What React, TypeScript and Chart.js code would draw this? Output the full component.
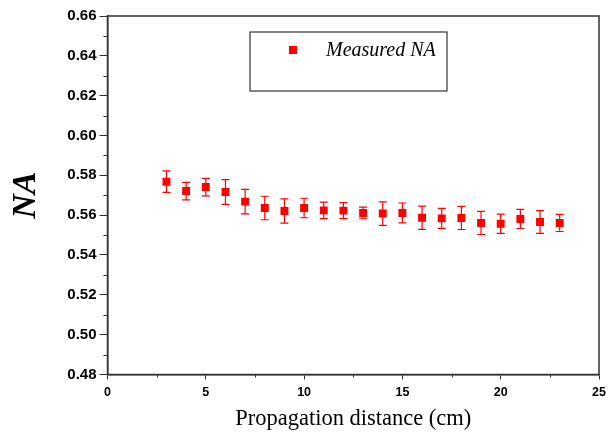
import React, { useEffect, useRef } from "react";
import { Chart, registerables } from "chart.js";

Chart.register(...registerables);

const seriesLabel = "Measured NA";
const distances = [3, 4, 5, 6, 7, 8, 9, 10, 11, 12, 13, 14, 15, 16, 17, 18, 19, 20, 21, 22, 23];
const naValues = [0.5768, 0.5721, 0.5741, 0.5716, 0.5668, 0.5636, 0.5621, 0.5636, 0.5624, 0.5623, 0.5611, 0.5608, 0.5611, 0.5587, 0.5584, 0.5586, 0.5561, 0.5557, 0.5581, 0.5566, 0.5561];
const naErrors = [0.0054, 0.0044, 0.0044, 0.0062, 0.0062, 0.0059, 0.0061, 0.0049, 0.0041, 0.004, 0.0029, 0.0059, 0.005, 0.0058, 0.005, 0.0058, 0.0058, 0.0048, 0.0048, 0.0057, 0.0043];
const xMin = 0, xMax = 25, xStep = 5, xMinorStep = 2.5;
const yMin = 0.48, yMax = 0.66, yStep = 0.02, yMinorStep = 0.01;

const AXIS = "#333";

const decorPlugin = {
  id: "decor",
  beforeDatasetsDraw(chart: any) {
    const { ctx } = chart;
    const xs = chart.scales.x, ys = chart.scales.y;
    ctx.save();
    ctx.strokeStyle = "#ff0000";
    ctx.lineWidth = 1.2;
    distances.forEach((d, i) => {
      const px = xs.getPixelForValue(d);
      const top = ys.getPixelForValue(naValues[i] + naErrors[i]);
      const bot = ys.getPixelForValue(naValues[i] - naErrors[i]);
      ctx.beginPath();
      ctx.moveTo(px, top); ctx.lineTo(px, bot);
      ctx.moveTo(px - 4, top); ctx.lineTo(px + 4, top);
      ctx.moveTo(px - 4, bot); ctx.lineTo(px + 4, bot);
      ctx.stroke();
    });
    ctx.restore();
  },
  afterDraw(chart: any) {
    const { ctx, chartArea: ca } = chart;
    const xs = chart.scales.x, ys = chart.scales.y;
    ctx.save();
    ctx.strokeStyle = AXIS;
    ctx.lineWidth = 1.5;
    ctx.strokeRect(ca.left, ca.top, ca.right - ca.left, ca.bottom - ca.top);
    ctx.lineWidth = 1;
    // minor ticks (outside)
    ctx.beginPath();
    for (let v = yMin + yMinorStep; v < yMax; v += yStep) {
      const py = Math.round(ys.getPixelForValue(v)) + 0.5;
      ctx.moveTo(ca.left, py); ctx.lineTo(ca.left - 4, py);
    }
    for (let v = xMinorStep; v < xMax; v += xStep) {
      const px = Math.round(xs.getPixelForValue(v)) + 0.5;
      ctx.moveTo(px, ca.bottom); ctx.lineTo(px, ca.bottom + 3);
    }
    ctx.stroke();
    // legend box
    const bx = ca.left + 142.5, by = ca.top + 16, bw = 197, bh = 59;
    ctx.fillStyle = "#fff";
    ctx.fillRect(bx, by, bw, bh);
    ctx.strokeStyle = AXIS;
    ctx.lineWidth = 1.2;
    ctx.strokeRect(bx, by, bw, bh);
    ctx.fillStyle = "#ff0000";
    ctx.fillRect(bx + 39, by + 14, 8, 8);
    ctx.fillStyle = "#000";
    ctx.font = "italic 20px 'Liberation Serif', 'Times New Roman', serif";
    ctx.textBaseline = "middle";
    ctx.textAlign = "left";
    ctx.fillText(seriesLabel, bx + 76, by + 19);
    ctx.restore();
  },
};

export default function App() {
  const ref = useRef<HTMLCanvasElement | null>(null);
  useEffect(() => {
    if (!ref.current) return;
    const chart = new Chart(ref.current, {
      type: "scatter",
      data: {
        datasets: [
          {
            label: seriesLabel,
            data: distances.map((d, i) => ({ x: d, y: naValues[i] })),
            pointStyle: "rect",
            pointRadius: 5.6,
            pointHoverRadius: 5.6,
            backgroundColor: "#ff0000",
            borderWidth: 0,
            showLine: false,
          },
        ],
      },
      options: {
        animation: false,
        responsive: true,
        maintainAspectRatio: false,
        layout: { padding: { top: 16, right: 9, left: 0, bottom: 0 } },
        plugins: { legend: { display: false }, tooltip: { enabled: false } },
        scales: {
          x: {
            type: "linear",
            min: xMin,
            max: xMax,
            afterFit: (s: any) => { s.height = 58.5; s.paddingRight = 0; s.paddingLeft = 0; },
            ticks: {
              stepSize: xStep,
              color: "#000",
              padding: 6,
              maxRotation: 0,
              font: { family: "'Liberation Sans', Arial, sans-serif", size: 12.5, weight: "bold" },
            },
            grid: { drawOnChartArea: false, drawTicks: true, tickLength: 5, color: AXIS, lineWidth: 1 },
            border: { display: true, color: AXIS, width: 1.5 },
            title: {
              display: true,
              text: "Propagation distance (cm)",
              color: "#000",
              padding: { top: 0, bottom: 0 },
              font: { family: "'Liberation Serif', 'Times New Roman', serif", size: 22.5, weight: "normal" },
            },
          },
          y: {
            min: yMin,
            max: yMax,
            afterFit: (s: any) => { s.width = 107.5; s.paddingTop = 0; s.paddingBottom = 0; },
            ticks: {
              stepSize: yStep,
              color: "#000",
              padding: 3,
              callback: (v: any) => Number(v).toFixed(2),
              font: { family: "'Liberation Sans', Arial, sans-serif", size: 15, weight: "bold" },
            },
            grid: { drawOnChartArea: false, drawTicks: true, tickLength: 8, color: AXIS, lineWidth: 1 },
            border: { display: true, color: AXIS, width: 1.5 },
            title: {
              display: true,
              text: "NA",
              color: "#000",
              padding: { top: 6, bottom: 0 },
              font: { family: "'Liberation Serif', 'Times New Roman', serif", size: 34, weight: "bold", style: "italic" },
            },
          },
        },
      },
      plugins: [decorPlugin],
    });
    return () => chart.destroy();
  }, []);
  return (
    <div style={{ position: "absolute", left: 0, top: 0, width: 608, height: 433, background: "#fff" }}>
      <canvas ref={ref} />
    </div>
  );
}
